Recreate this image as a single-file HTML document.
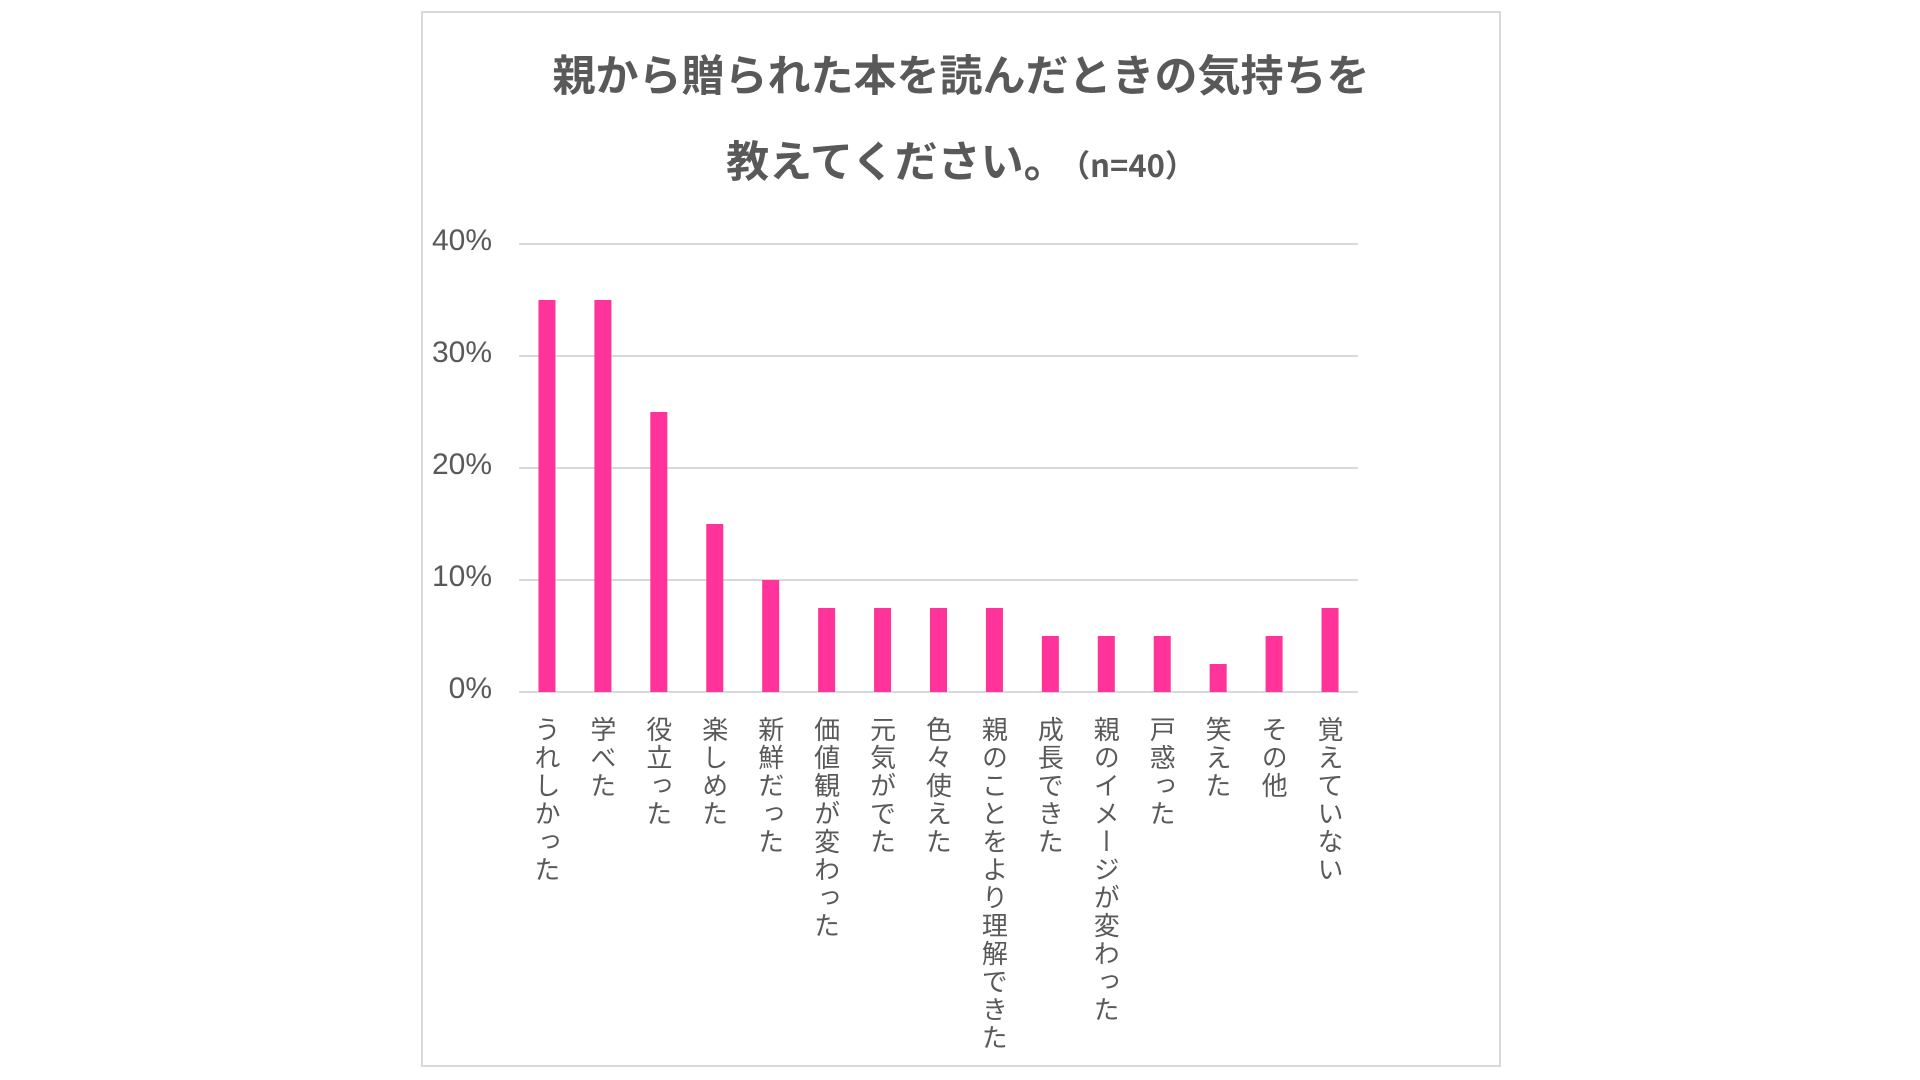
<!DOCTYPE html>
<html><head><meta charset="utf-8">
<style>
html,body{margin:0;padding:0;background:#fff;}
body{width:1920px;height:1080px;position:relative;overflow:hidden;font-family:"Liberation Sans","Noto Sans CJK JP",sans-serif;}
#frame{position:absolute;left:421px;top:11px;width:1080px;height:1056px;border:2px solid #d9d9d9;box-sizing:border-box;}
.title{position:absolute;left:421px;width:1080px;text-align:center;color:#595959;font-weight:bold;font-family:"Noto Sans CJK JP",sans-serif;}
.xl{position:absolute;top:716px;writing-mode:vertical-rl;font-size:26px;line-height:28px;letter-spacing:2px;color:#595959;font-family:"Noto Sans CJK JP",sans-serif;}
.yl{position:absolute;width:80px;text-align:right;font-size:30px;color:#595959;}
</style></head>
<body>
<div id="frame"></div>
<div class="title" style="top:44px;font-size:43px;line-height:58px;">親から贈られた本を読んだときの気持ちを</div>
<div class="title" style="top:130px;font-size:43px;line-height:58px;">教えてください。<span style="font-size:31px;margin-left:8px;">（n=40）</span></div>
<svg id="chart" width="1920" height="1080" style="position:absolute;left:0;top:0;"></svg>
<div id="labels"></div>
<script>
const categories=["うれしかった","学べた","役立った","楽しめた","新鮮だった","価値観が変わった","元気がでた","色々使えた","親のことをより理解できた","成長できた","親のイメージが変わった","戸惑った","笑えた","その他","覚えていない"];
const values=[35,35,25,15,10,7.5,7.5,7.5,7.5,5,5,5,2.5,5,7.5];
const yTicks=[0,10,20,30,40];
const yTickLabels=["0%","10%","20%","30%","40%"];

const X0=519,X1=1358,Y0=692,Y1=244,YMAX=40;
const band=(X1-X0)/categories.length;
const xC=i=>X0+band*(i+0.5);
const y=v=>Y0-(v/YMAX)*(Y0-Y1);
const NS="http://www.w3.org/2000/svg";
const svg=document.getElementById('chart');
yTicks.forEach((t,i)=>{
  const l=document.createElementNS(NS,'line');
  l.setAttribute('x1',X0);l.setAttribute('x2',X1);
  l.setAttribute('y1',y(t));l.setAttribute('y2',y(t));
  l.setAttribute('stroke','#d9d9d9');l.setAttribute('stroke-width','2');
  
  
  svg.appendChild(l);
  const d=document.createElement('div');
  d.className='yl';
  d.style.left='412px';d.style.top=(y(t)-20)+'px';
  d.textContent=yTickLabels[i];
  
  
  document.body.appendChild(d);
});
const bw=17;
values.forEach((v,i)=>{
  const r=document.createElementNS(NS,'rect');
  r.setAttribute('x',xC(i)-bw/2);r.setAttribute('width',bw);
  r.setAttribute('y',y(v));r.setAttribute('height',Y0-y(v));
  r.setAttribute('fill','#ff3399');
  
  
  svg.appendChild(r);
});
categories.forEach((c,i)=>{
  const d=document.createElement('div');
  d.className='xl';
  d.style.left=(xC(i)-14)+'px';
  d.textContent=c;
  
  
  document.getElementById('labels').appendChild(d);
});
</script>
</body></html>
